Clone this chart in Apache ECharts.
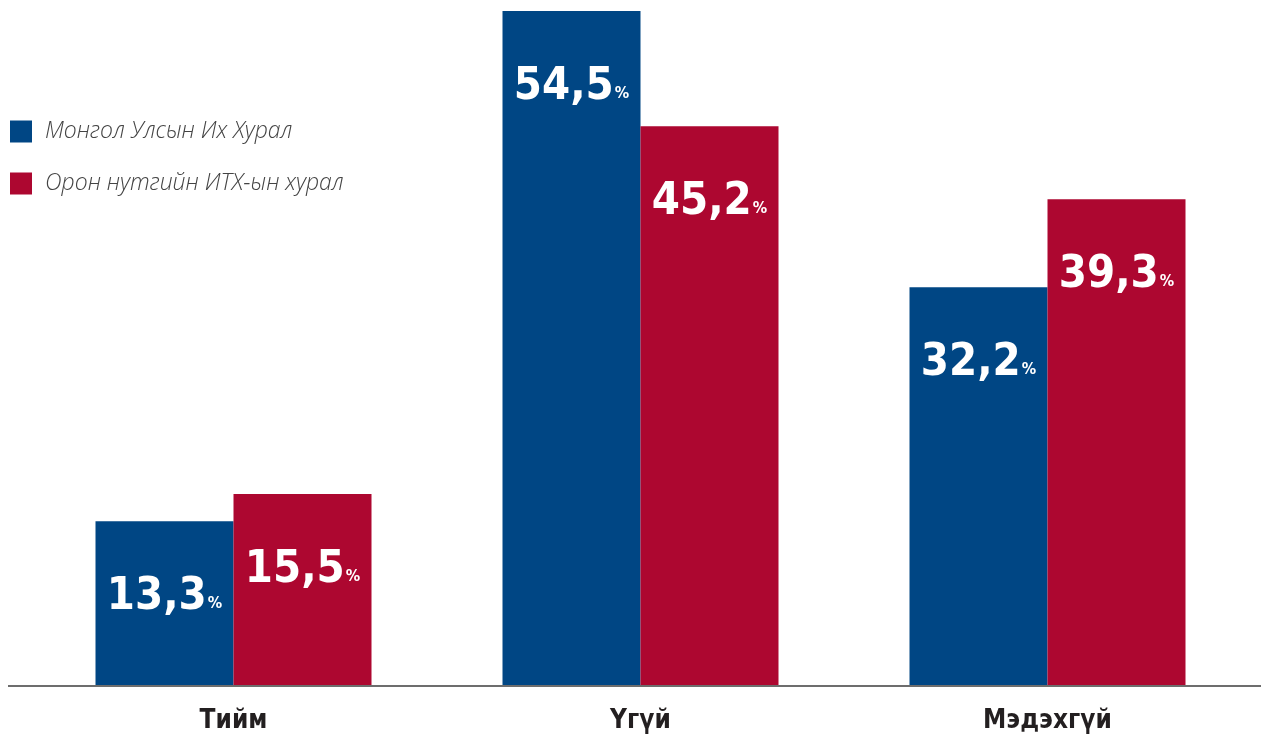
<!DOCTYPE html>
<html><head><meta charset="utf-8">
<script src="https://cdn.jsdelivr.net/npm/echarts@6/dist/echarts.min.js"></script>
<style>html,body{margin:0;padding:0;background:#fff}#c{width:1261px;height:734px}</style>
</head><body><div id="c"></div>
<script>
const categories = ['Тийм', 'Үгүй', 'Мэдэхгүй'];
const seriesNames = ['Монгол Улсын Их Хурал', 'Орон нутгийн ИТХ-ын хурал'];
const parliament = [13.3, 54.5, 32.2];
const local = [15.5, 45.2, 39.3];
const colors = ['#004684', '#AD0730'];

const chart = echarts.init(document.getElementById('c'));
const condensed = '"Liberation Sans Narrow", "DejaVu Sans Condensed", sans-serif';
function lbl() {
  return {
    show: true, position: 'insideTop', distance: 54,
    formatter: p => '{n|' + p.value.toFixed(1).replace('.', ',') + '}{p|%}',
    rich: {
      n: {fontFamily: condensed, fontWeight: 'bold', fontSize: 45, color: '#fff'},
      p: {fontFamily: condensed, fontWeight: 'bold', fontSize: 16, color: '#fff', padding: [13, 0, 0, 1]}
    }
  };
}
chart.setOption({
  animation: false,
  color: colors,
  legend: {
    orient: 'vertical', left: 5, top: 115, itemWidth: 22, itemHeight: 22, itemGap: 29,
    icon: 'rect',
    textStyle: {fontFamily: '"Open Sans", sans-serif', fontStyle: 'italic', fontWeight: 300, fontSize: 23, color: '#444', padding: [0, 0, 0, 8]},
    data: seriesNames
  },
  grid: {left: 30, right: 10, top: 11, bottom: 48},
  xAxis: {
    type: 'category', data: categories,
    axisLine: {show: false}, axisTick: {show: false},
    axisLabel: {margin: 22, fontFamily: condensed, fontWeight: 'bold', fontSize: 26, color: '#231f20'}
  },
  yAxis: {type: 'value', min: 0, max: 54.5, show: false},
  graphic: [{type: 'line', shape: {x1: 8, y1: 686, x2: 1261, y2: 686}, style: {stroke: '#6d6d6d', lineWidth: 2}, z: 10}],
  series: [
    {name: seriesNames[0], type: 'bar', data: parliament, barWidth: 138, barGap: '0%', label: lbl()},
    {name: seriesNames[1], type: 'bar', data: local, barWidth: 138, barGap: '0%', label: lbl()}
  ]
});
</script></body></html>
